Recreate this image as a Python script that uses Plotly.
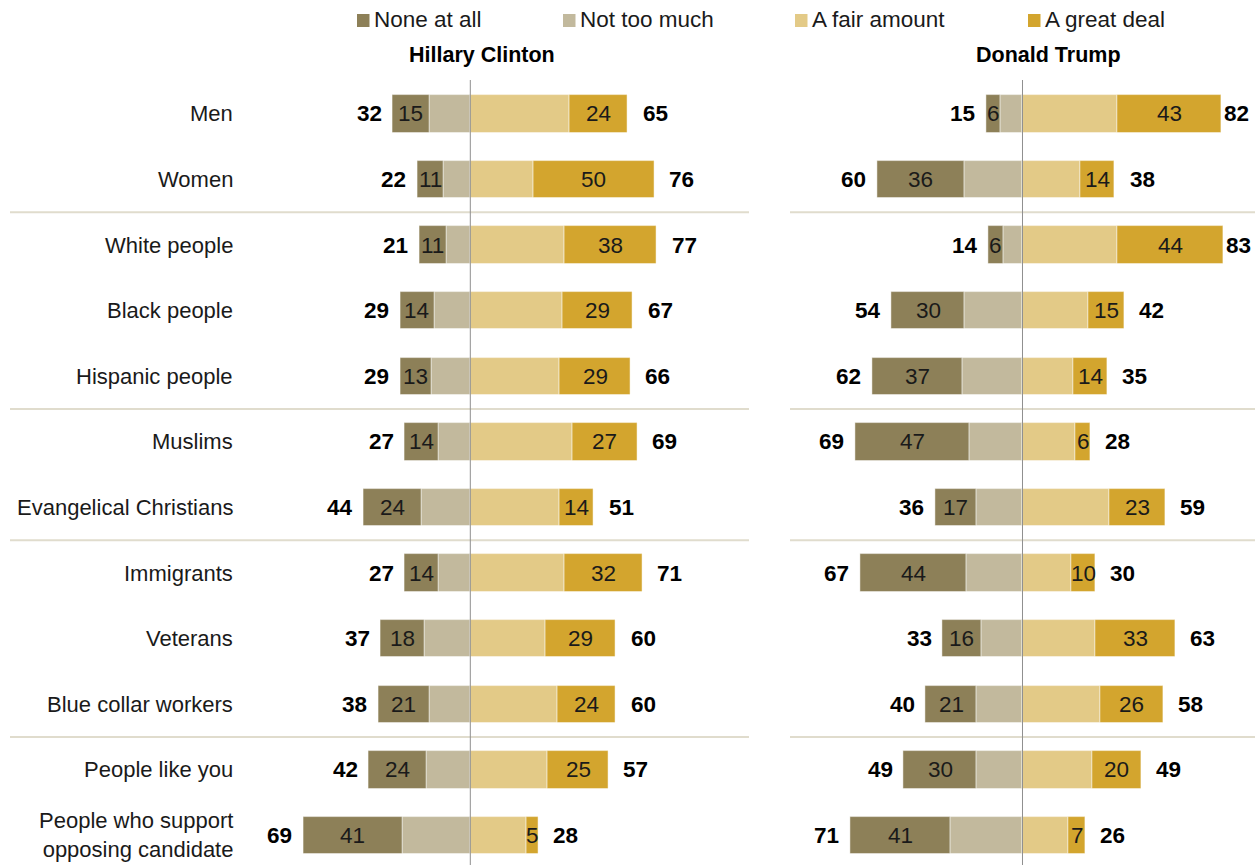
import plotly.graph_objects as go

# Row labels, top to bottom
groups = [
    "Men", "Women", "White people", "Black people", "Hispanic people",
    "Muslims", "Evangelical Christians", "Immigrants", "Veterans",
    "Blue collar workers", "People like you",
    "People who support<br>opposing candidate",
]

# Hillary Clinton: NET negative / NET positive and outer segments
clinton_neg_total = [32, 22, 21, 29, 29, 27, 44, 27, 37, 38, 42, 69]
clinton_none = [15, 11, 11, 14, 13, 14, 24, 14, 18, 21, 24, 41]
clinton_pos_total = [65, 76, 77, 67, 66, 69, 51, 71, 60, 60, 57, 28]
clinton_great = [24, 50, 38, 29, 29, 27, 14, 32, 29, 24, 25, 5]

# Donald Trump
trump_neg_total = [15, 60, 14, 54, 62, 69, 36, 67, 33, 40, 49, 71]
trump_none = [6, 36, 6, 30, 37, 47, 17, 44, 16, 21, 30, 41]
trump_pos_total = [82, 38, 83, 42, 35, 28, 59, 30, 63, 58, 49, 26]
trump_great = [43, 14, 44, 15, 14, 6, 23, 10, 33, 26, 20, 7]

panel_titles = ["Hillary Clinton", "Donald Trump"]
legend_labels = ["None at all", "Not too much", "A fair amount", "A great deal"]

COLORS = {
    "None at all": "#8d8058",
    "Not too much": "#c2b99d",
    "A fair amount": "#e3ca87",
    "A great deal": "#d3a52e",
}

W, H = 1255, 865
PX_PER_UNIT = 2.423
FONT = "Liberation Sans, Arial, sans-serif"

# horizontal placement of the two panels (pixel of the zero line, value range)
panels = [
    dict(center=470.3, lo=-80, hi=120, xaxis="x", yaxis="y"),
    dict(center=1022.5, lo=-95, hi=95, xaxis="x2", yaxis="y"),
]
for p in panels:
    left = p["center"] + p["lo"] * PX_PER_UNIT
    right = p["center"] + p["hi"] * PX_PER_UNIT
    p["domain"] = [left / W, right / W]

# vertical placement: row centres in pixels
ROW0, ROW_STEP = 113.8, 65.6
y_top = -ROW0 / ROW_STEP
y_bot = (H - ROW0) / ROW_STEP

rows = list(range(len(groups)))

fig = go.Figure()

data_sets = [
    (clinton_neg_total, clinton_none, clinton_pos_total, clinton_great),
    (trump_neg_total, trump_none, trump_pos_total, trump_great),
]

annotations = []

for p, (neg_tot, none, pos_tot, great) in zip(panels, data_sets):
    not_too = [t - n for t, n in zip(neg_tot, none)]
    fair = [t - g for t, g in zip(pos_tot, great)]
    series = [
        ("Not too much", [-v for v in not_too]),
        ("None at all", [-v for v in none]),
        ("A fair amount", fair),
        ("A great deal", great),
    ]
    for name, vals in series:
        fig.add_trace(go.Bar(
            x=vals, y=rows, orientation="h", name=name,
            marker=dict(color=COLORS[name], line=dict(color="rgba(255,255,255,0.6)", width=0.8)),
            width=0.57, showlegend=False, hoverinfo="skip",
            xaxis=p["xaxis"], yaxis=p["yaxis"],
        ))

    xref = p["xaxis"]
    for i in rows:
        # value inside the outer segments
        annotations.append(dict(
            x=-neg_tot[i] + none[i] / 2, y=i, xref=xref, yref="y",
            text=str(none[i]), showarrow=False,
            font=dict(family=FONT, size=22.5, color="#1a1a1a"),
        ))
        annotations.append(dict(
            x=pos_tot[i] - great[i] / 2, y=i, xref=xref, yref="y",
            text=str(great[i]), showarrow=False,
            font=dict(family=FONT, size=22.5, color="#1a1a1a"),
        ))
        # NET totals outside the bars
        annotations.append(dict(
            x=-neg_tot[i], y=i, xref=xref, yref="y",
            text="<b>%d</b>" % neg_tot[i], showarrow=False,
            xanchor="right", xshift=-9,
            font=dict(family=FONT, size=22.5, color="#000000"),
        ))
        end_px = p["center"] + pos_tot[i] * PX_PER_UNIT
        shift = 13 if end_px + 13 + 33 <= W else max(0, W - 33 - end_px)
        annotations.append(dict(
            x=pos_tot[i], y=i, xref=xref, yref="y",
            text="<b>%d</b>" % pos_tot[i], showarrow=False,
            xanchor="left", xshift=shift,
            font=dict(family=FONT, size=22.5, color="#000000"),
        ))

# row labels on the left
for i, g in enumerate(groups):
    annotations.append(dict(
        x=235 / W, y=i, xref="paper", yref="y", text=g, showarrow=False,
        xanchor="right", align="right",
        font=dict(family=FONT, size=22, color="#1a1a1a"),
    ))

# panel titles
for title, cx in zip(panel_titles, [481.5, 1048]):
    annotations.append(dict(
        x=cx / W, y=1 - 55 / H, xref="paper", yref="paper",
        text="<b>%s</b>" % title, showarrow=False,
        xanchor="center", yanchor="middle",
        font=dict(family=FONT, size=21.5, color="#000000"),
    ))

shapes = []

# custom legend row
legend_x = [357, 563, 795, 1028]
for lab, lx in zip(legend_labels, legend_x):
    shapes.append(dict(
        type="rect", xref="paper", yref="paper",
        x0=lx / W, x1=(lx + 12.5) / W, y0=1 - 27 / H, y1=1 - 14 / H,
        fillcolor=COLORS[lab], line=dict(width=0),
    ))
    annotations.append(dict(
        x=(lx + 15) / W, y=1 - 20 / H, xref="paper", yref="paper",
        text=lab, showarrow=False, xanchor="left", yanchor="middle",
        font=dict(family=FONT, size=22.5, color="#1a1a1a"),
    ))

# group separators
for ysep in [1.5, 4.5, 6.5, 9.5]:
    for x0, x1 in [(10, 749), (790, 1255)]:
        shapes.append(dict(
            type="line", xref="paper", yref="y",
            x0=x0 / W, x1=x1 / W, y0=ysep, y1=ysep,
            line=dict(color="#e0dccd", width=2),
        ))

# zero lines
for p in panels:
    shapes.append(dict(
        type="line", xref=p["xaxis"], yref="paper",
        x0=0, x1=0, y0=0, y1=1 - 80 / H,
        line=dict(color="#8f8f8f", width=1),
        layer="above",
    ))

axis_common = dict(showgrid=False, zeroline=False, showticklabels=False,
                   showline=False, ticks="", fixedrange=True)

fig.update_layout(
    width=W, height=H,
    margin=dict(l=0, r=0, t=0, b=0),
    paper_bgcolor="white", plot_bgcolor="white",
    barmode="relative", bargap=0,
    showlegend=False,
    xaxis=dict(domain=panels[0]["domain"], range=[panels[0]["lo"], panels[0]["hi"]], **axis_common),
    xaxis2=dict(domain=panels[1]["domain"], range=[panels[1]["lo"], panels[1]["hi"]], **axis_common),
    yaxis=dict(domain=[0, 1], range=[y_bot, y_top], **axis_common),
    annotations=annotations,
    shapes=shapes,
)

fig.write_html("out.html")
